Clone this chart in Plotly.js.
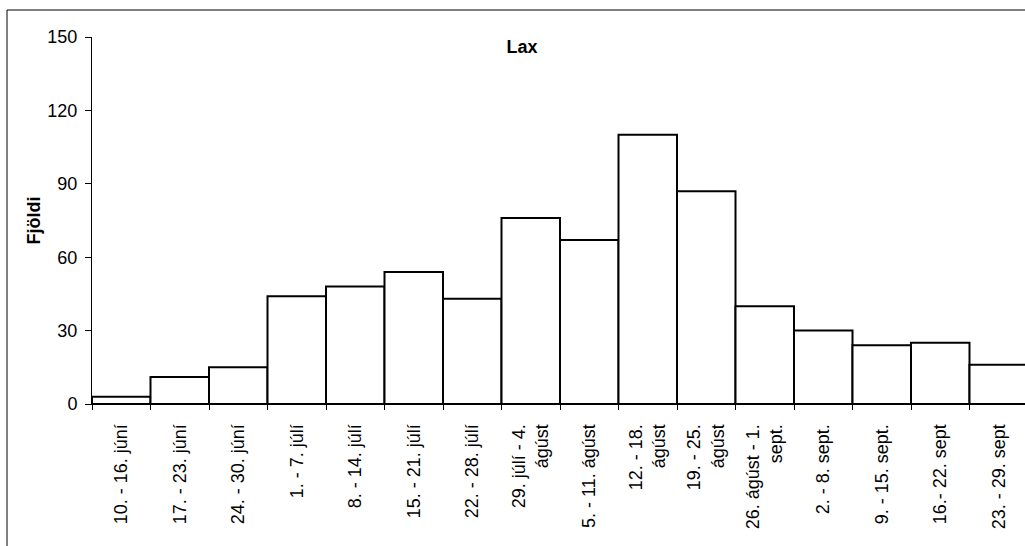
<!DOCTYPE html>
<html>
<head>
<meta charset="utf-8">
<script src="https://cdn.plot.ly/plotly-3.0.1.min.js"></script>
<style>
html, body { margin: 0; padding: 0; overflow: hidden; background: #fff; }
#chart { width: 1028px; height: 546px; }
</style>
</head>
<body>
<div id="chart"></div>
<script>
const categories = [
  "10. - 16. júní",
  "17. - 23. júní",
  "24. - 30. júní",
  "1. - 7. júlí",
  "8. - 14. júlí",
  "15. - 21. júlí",
  "22. - 28. júlí",
  "29. júlí - 4.<br>ágúst",
  "5. - 11. ágúst",
  "12. - 18.<br>ágúst",
  "19. - 25.<br>ágúst",
  "26. ágúst - 1.<br>sept.",
  "2. - 8. sept.",
  "9. - 15. sept.",
  "16.- 22. sept",
  "23. - 29. sept"
];
const counts = [3, 11, 15, 44, 48, 54, 43, 76, 67, 110, 87, 40, 30, 24, 25, 16];
const yTicks = [0, 30, 60, 90, 120, 150];
const chartTitle = "Lax";
const yTitle = "Fjöldi";

const font = "Arial, 'Liberation Sans', sans-serif";

const trace = {
  type: "bar",
  x: categories,
  y: counts,
  marker: { color: "#ffffff", line: { color: "#000000", width: 2 } },
  hoverinfo: "x+y"
};

const layout = {
  width: 1028,
  height: 546,
  margin: { l: 92, r: 0, t: 37, b: 142 },
  paper_bgcolor: "#ffffff",
  plot_bgcolor: "#ffffff",
  bargap: 0,
  showlegend: false,
  font: { family: font, size: 18, color: "#000000" },
  title: {
    text: "<b>" + chartTitle + "</b>",
    font: { family: font, size: 18, color: "#000000" },
    x: 522 / 1028, xref: "container", xanchor: "center",
    y: 1 - 47 / 546, yref: "container", yanchor: "middle"
  },
  xaxis: {
    type: "category",
    tickangle: -90,
    ticks: "outside",
    tickson: "boundaries",
    ticklen: 5,
    tickcolor: "#000000",
    tickwidth: 1,
    ticklabelstandoff: 12,
    showline: true,
    linecolor: "#000000",
    linewidth: 1,
    showgrid: false,
    tickfont: { family: font, size: 18, color: "#000000" },
    automargin: false
  },
  yaxis: {
    range: [0, 150],
    tickvals: yTicks,
    ticktext: yTicks.map(String),
    ticks: "outside",
    ticklen: 6,
    tickcolor: "#000000",
    tickwidth: 1,
    ticklabelstandoff: 4,
    showline: true,
    linecolor: "#000000",
    linewidth: 1,
    showgrid: false,
    zeroline: false,
    tickfont: { family: font, size: 18, color: "#000000" },
    title: { text: "<b>" + yTitle + "</b>", font: { family: font, size: 18, color: "#000000" }, standoff: 2 },
    automargin: false
  },
  shapes: [
    { type: "line", xref: "paper", yref: "paper",
      x0: (7 - 92) / 936, x1: (7 - 92) / 936, y0: -1, y1: 1 + 27 / 367,
      line: { color: "#000000", width: 1 } },
    { type: "line", xref: "paper", yref: "paper",
      x0: (7 - 92) / 936, x1: 1.2, y0: 1 + 27 / 367, y1: 1 + 27 / 367,
      line: { color: "#000000", width: 1 } }
  ]
};

Plotly.newPlot("chart", [trace], layout, { displayModeBar: false, staticPlot: true });
</script>
</body>
</html>
